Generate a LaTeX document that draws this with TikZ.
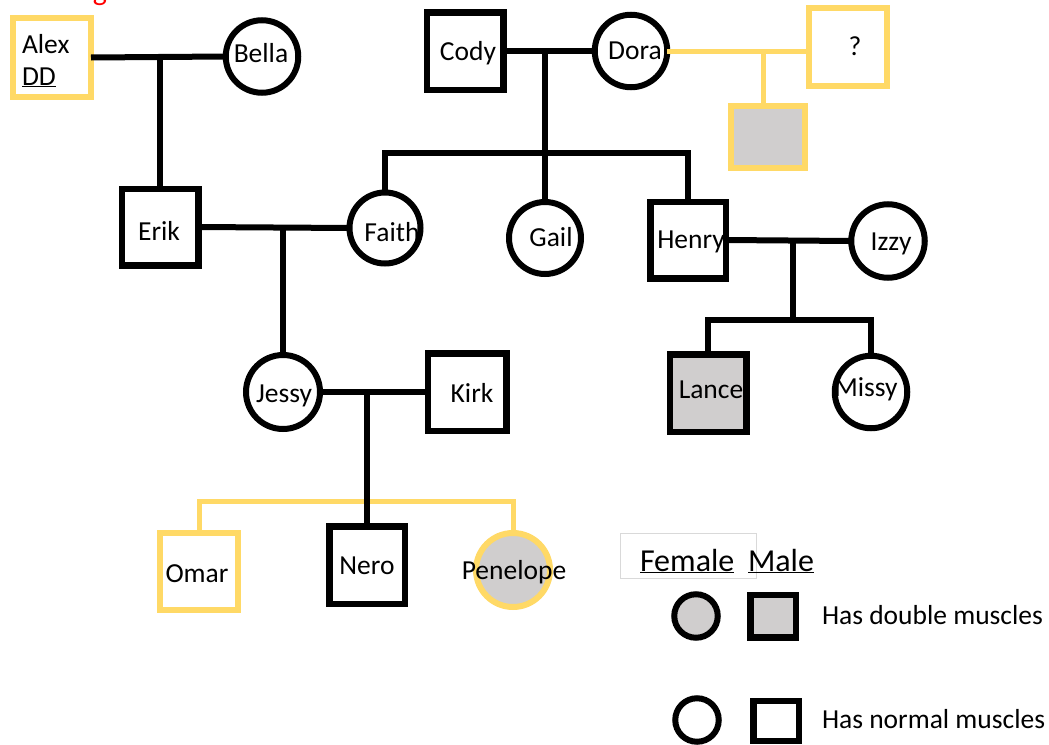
\documentclass[tikz,border=0pt]{standalone}
\usepackage{fontspec}
\setmainfont{Carlito}
\usetikzlibrary{calc}
\definecolor{gold}{HTML}{FFD966}
\definecolor{fillgray}{HTML}{D0CECE}
\begin{document}
\begin{tikzpicture}[x=1pt,y=-1pt,
  every node/.style={font=\fontsize{27.5}{32}\selectfont, inner sep=0pt, outer sep=0pt},
  every label/.style={text height=17.7pt, text depth=0pt},
  male/.style={draw=black, line width=6.5pt, rectangle, minimum width=76.5pt, minimum height=76.5pt},
  female/.style={draw=black, line width=6pt, circle, minimum size=72.5pt},
  goldline/.style={draw=gold},
  affected/.style={fill=fillgray},
  blk/.style={line width=6pt, black},
  yel/.style={line width=5pt, gold}]
\useasboundingbox (0,0) rectangle (1049,744);

% red title fragment (cut off at top)
\node[text=red, anchor=base, font=\fontsize{30}{30}\selectfont] (title) at (100,0) {g};

% generation I
\node[male, goldline, line width=6pt, minimum width=78pt, minimum height=79pt] (alex) at (52,57.5) {};
\node[anchor=base west] (alexlbl) at (22,53) {Alex};
\node[anchor=base west] (ddlbl) at (22,85) {\underline{DD}};
\node[female, label={[xshift=-1pt,yshift=3pt]center:Bella}] (bella) at (262,56.5) {};
\node[male, minimum height=77.5pt, label={[xshift=3pt,yshift=-1pt]center:Cody}] (cody) at (465,51) {};
\node[female, label={[xshift=4pt]center:Dora}] (dora) at (631,51) {};
\node[male, goldline, line width=6pt, minimum width=78pt, minimum height=78pt, label={[xshift=7pt]center:?}] (q) at (848,47) {};
\node[male, goldline, line width=6pt, affected, minimum width=74pt, minimum height=62pt] (gbox) at (768,137) {};

% generation II
\node[male, label={[xshift=-1pt,yshift=-5pt]center:Erik}] (erik) at (160,227) {};
\node[female, minimum size=71pt, label={[xshift=7pt,yshift=-5pt]center:Faith}] (faith) at (385,228) {};
\node[female, minimum size=72pt, label={[xshift=6pt]center:Gail}] (gail) at (545,238) {};
\node[male, minimum width=75.5pt, label={[xshift=3pt]center:Henry}] (henry) at (688,240) {};
\node[female, minimum size=73.5pt, label={[xshift=3pt,yshift=-1pt]center:Izzy}] (izzy) at (888,241) {};

% generation III
\node[female, minimum size=74pt, label={[xshift=1pt,yshift=-1.5pt]center:Jessy}] (jessy) at (283,392) {};
\node[male, minimum width=78.5pt, minimum height=77.5pt, label={[xshift=5pt,yshift=-1.5pt]center:Kirk}] (kirk) at (467,392) {};
\node[male, affected, minimum height=77.5pt, label={[xshift=3pt,yshift=3pt]center:Lance}] (lance) at (708,393) {};
\node[female, label={[xshift=-5pt,yshift=4pt]center:Missy}] (missy) at (871,392) {};

% generation IV
\node[male, goldline, line width=6pt, minimum width=78pt, minimum height=77pt, label={[xshift=-2pt,yshift=-2.5pt]center:Omar}] (omar) at (199,571) {};
\node[male, minimum width=75.5pt, minimum height=77.5pt, label={[yshift=-1pt]center:Nero}] (nero) at (367,565) {};
\node[female, goldline, affected, minimum size=74pt, label={[xshift=1pt,yshift=-0.5pt]center:Penelope}] (penelope) at (513,570) {};

% connectors
\draw[blk] (alex.east) -- (bella.west);
\draw[blk] (erik.north) -- (erik.north |- alex.east);
\draw[blk] (erik.east) -- (faith.west);
\draw[blk] (jessy.north) -- (jessy.north |- erik.east);
\draw[blk] (cody.east) -- (dora.west);
\coordinate (cdsib) at (545,153);
\draw[blk] (gail.north) -- (gail.north |- cody.east);
\draw[blk] (faith.north) |- (cdsib) -| (henry.north);
\draw[yel] (dora.east) -- (dora.east -| q.west);
\coordinate (dq) at (763,52);
\draw[yel] (dq) -- (dq |- gbox.north);
\draw[blk] (henry.east) -- (izzy.west);
\coordinate (hi) at (793,241);
\coordinate (hisib) at (793,320);
\draw[blk] (hi) -- (hisib);
\draw[blk] (lance.north) |- (hisib) -| (missy.north);
\draw[blk] (jessy.east) -- (kirk.west);
\coordinate (jk) at (367,392);
\coordinate (jksib) at (367,501);
\draw[yel] (omar.north) |- (jksib) -| (penelope.north);
\draw[blk] (jk) -- (nero.north);

% legend
\draw[black!15, line width=0.8pt] (620,533) rectangle (756,578);
\node[anchor=base west, font=\fontsize{32}{36}\selectfont] (female) at (640,571) {\underline{Female}};
\node[anchor=base west, font=\fontsize{32}{36}\selectfont] (malehd) at (748,571) {\underline{Male}};
\node[female, affected, minimum size=43.5pt] (lfa) at (696,616) {};
\node[male, affected, minimum width=45.5pt, minimum height=42.5pt] (lma) at (773,616) {};
\node[anchor=west, text height=17.7pt, text depth=0pt] (ldouble) at (822,616) {Has double muscles};
\node[female, minimum size=43.5pt] (lfn) at (697,720) {};
\node[male, minimum width=45.5pt, minimum height=40pt] (lmn) at (776,721) {};
\node[anchor=west, text height=17.7pt, text depth=0pt] (lnormal) at (822,720) {Has normal muscles};
\end{tikzpicture}
\end{document}
